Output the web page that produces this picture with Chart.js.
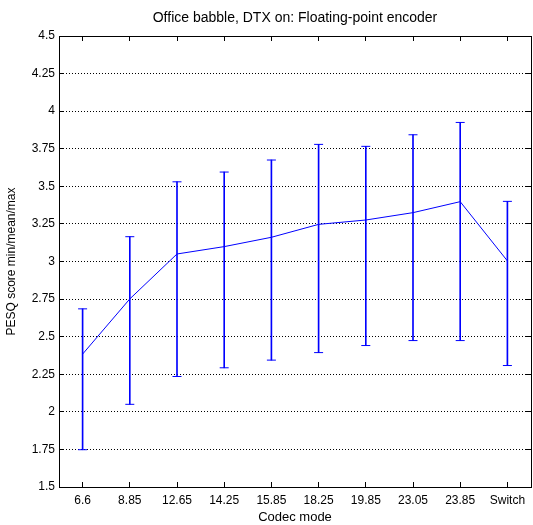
<!DOCTYPE html>
<html>
<head>
<meta charset="utf-8">
<script src="https://cdn.jsdelivr.net/npm/chart.js@4/dist/chart.umd.min.js"></script>
<style>
html, body { margin: 0; padding: 0; background: #fff; }
</style>
</head>
<body>
<canvas id="pesqChart" width="533" height="525"></canvas>
<script>
// values
const codecModes = ['6.6', '8.85', '12.65', '14.25', '15.85', '18.25', '19.85', '23.05', '23.85', 'Switch'];
const meanScore = [2.384, 2.751, 3.05, 3.099, 3.161, 3.247, 3.276, 3.325, 3.398, 3.004];
const maxScore  = [2.685, 3.165, 3.53, 3.595, 3.675, 3.779, 3.766, 3.843, 3.925, 3.40];
const minScore  = [1.748, 2.05, 2.235, 2.293, 2.344, 2.394, 2.441, 2.474, 2.474, 2.308];
const yMin = 1.5, yMax = 4.5, yStep = 0.25;

const blue = '#0000ff';
Chart.defaults.font.family = '"Liberation Sans", Arial, sans-serif';
Chart.defaults.font.size = 12;
Chart.defaults.color = '#000';

const tickGrid = { drawOnChartArea: false, drawTicks: true, tickLength: -5, tickColor: '#000', offset: false };
const axisBorder = { display: true, color: '#000', width: 1 };

const ctx = document.getElementById('pesqChart').getContext('2d');
const pesqChart = new Chart(ctx, {
    data: {
        labels: codecModes,
        datasets: [
            {
                type: 'line',
                label: 'Mean',
                data: meanScore,
                borderColor: blue,
                borderWidth: 1,
                pointRadius: 0,
                tension: 0,
                fill: false,
                xAxisID: 'x', yAxisID: 'y',
                order: 1
            },
            {
                type: 'line',
                label: 'Max',
                data: maxScore,
                showLine: false,
                pointStyle: 'line',
                pointRadius: 4.5,
                pointBorderColor: blue,
                pointBorderWidth: 1,
                xAxisID: 'x', yAxisID: 'y',
                order: 2
            },
            {
                type: 'line',
                label: 'Min',
                data: minScore,
                showLine: false,
                pointStyle: 'line',
                pointRadius: 4.5,
                pointBorderColor: blue,
                pointBorderWidth: 1,
                xAxisID: 'x', yAxisID: 'y',
                order: 2
            },
            {
                type: 'bar',
                label: 'Range',
                data: codecModes.map((c, i) => [minScore[i], maxScore[i]]),
                backgroundColor: blue,
                borderWidth: 0,
                barThickness: 1,
                xAxisID: 'x', yAxisID: 'y',
                order: 3
            }
        ]
    },
    options: {
        responsive: false,
        animation: false,
        layout: { padding: 0, autoPadding: false },
        plugins: {
            legend: { display: false },
            tooltip: { enabled: false },
            title: {
                display: true,
                text: 'Office babble, DTX on: Floating-point encoder',
                fullSize: false,
                color: '#000',
                font: { size: 14, weight: 'normal' },
                padding: { top: 10, bottom: 9.2 }
            }
        },
        scales: {
            x: {
                type: 'category',
                position: 'bottom',
                offset: true,
                grid: tickGrid,
                border: axisBorder,
                ticks: { padding: 11, maxRotation: 0, autoSkip: false },
                title: { display: true, text: 'Codec mode', font: { size: 13 }, padding: { top: 0, bottom: 0 } },
                afterFit: s => { s.height = 38; s.paddingLeft = 0; s.paddingRight = 0; }
            },
            x2: {
                type: 'category',
                position: 'top',
                labels: codecModes,
                offset: true,
                grid: tickGrid,
                border: axisBorder,
                ticks: { display: false },
                afterFit: s => { s.height = 0; s.paddingLeft = 0; s.paddingRight = 0; }
            },
            y: {
                type: 'linear',
                position: 'left',
                min: yMin,
                max: yMax,
                ticks: { stepSize: yStep, padding: 9, callback: v => String(v) },
                grid: { color: '#000', drawTicks: true, tickLength: -5, tickColor: '#000' },
                border: { display: true, color: '#000', width: 1, dash: [1, 2] },
                title: { display: true, text: 'PESQ score min/mean/max', padding: { top: 4, bottom: 0 } },
                afterFit: s => { s.width = 59; s.paddingTop = 0; s.paddingBottom = 0; }
            },
            y2: {
                type: 'linear',
                position: 'right',
                min: yMin,
                max: yMax,
                ticks: { stepSize: yStep, display: false },
                grid: tickGrid,
                border: axisBorder,
                afterFit: s => { s.width = 2; s.paddingTop = 0; s.paddingBottom = 0; }
            }
        }
    }
});
</script>
</body>
</html>
